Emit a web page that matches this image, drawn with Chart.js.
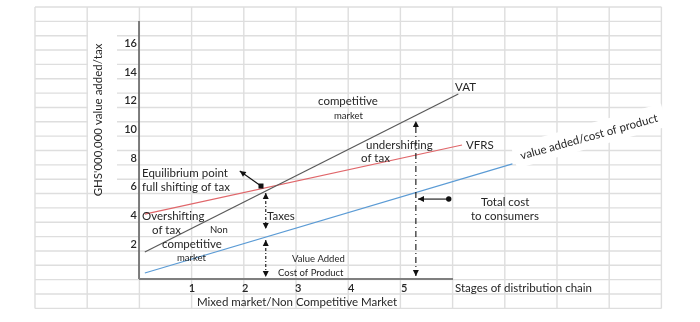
<!DOCTYPE html>
<html>
<head>
<meta charset="utf-8">
<script src="https://cdn.jsdelivr.net/npm/chart.js@4.4.1/dist/chart.umd.min.js"></script>
<style>
  html, body { margin: 0; padding: 0; background: #fff; }
  #wrap { width: 700px; height: 322px; }
</style>
</head>
<body>
<div id="wrap"><canvas id="chart" width="700" height="322"></canvas></div>
<script>
// Axis labels
const stageTicks = [1, 2, 3, 4, 5];
const valueTicks = [2, 4, 6, 8, 10, 12, 14, 16];

// Line endpoints (stage, GHS'000,000)
const vatLine = [{ x: 0.11, y: 1.46 }, { x: 6.02, y: 12.47 }];
const vfrsLine = [{ x: 0.11, y: 4.10 }, { x: 6.09, y: 8.92 }];
const costLine = [{ x: 0.11, y: 0.00 }, { x: 7.04, y: 7.60 }];

// Arrows between the lines (stage, value)
const arrows = [
    { from: { x: 2.30, y: 6.06 }, to: { x: 1.90, y: 7.11 }, dash: [], startCap: 'square', endCap: 'head' },
    { from: { x: 2.39, y: 5.57 }, to: { x: 2.39, y: 3.06 }, dash: [3, 2, 1, 2], startCap: 'head', endCap: 'head' },
    { from: { x: 2.39, y: 2.30 }, to: { x: 2.39, y: -0.28 }, dash: [3, 2, 1, 2], startCap: 'head', endCap: 'head' },
    { from: { x: 5.22, y: -0.21 }, to: { x: 5.22, y: 10.59 }, dash: [6, 3, 1, 3], startCap: 'head', endCap: 'head' },
    { from: { x: 5.84, y: 5.15 }, to: { x: 5.26, y: 5.15 }, dash: [], startCap: 'dot', endCap: 'head' }
];

const FONT = 'Lato, "Open Sans", sans-serif';
const TEXT = '#262626';
const BIG = 11.5;
const SMALL = 9.5;

// Text boxes placed on the sheet
const notes = [
    ['VAT', 455, 87, BIG],
    ['competitive', 318, 101, BIG],
    ['market', 334, 116, SMALL],
    ['undershifting', 366, 145, BIG],
    ['of tax', 361, 158, BIG],
    ['VFRS', 466, 145, BIG],
    ['Equilibrium point', 142, 173, BIG],
    ['full shifting of tax', 142, 187, BIG],
    ['Overshifting', 142, 216, BIG],
    ['of tax', 152, 230, BIG],
    ['Non', 210, 230, SMALL],
    ['competitive', 162, 244, BIG],
    ['market', 177, 258, SMALL],
    ['Taxes', 267, 216, BIG],
    ['Value Added', 292, 259, SMALL],
    ['Cost of Product', 278, 273, SMALL],
    ['Total cost', 481, 202, BIG],
    ['to consumers', 471, 216, BIG],
    ['Stages of distribution chain', 455, 288, BIG],
    ['Mixed market/Non Competitive Market', 197, 302, BIG]
];

function drawHead(ctx, x, y, angle) {
    ctx.save();
    ctx.translate(x, y);
    ctx.rotate(angle);
    ctx.beginPath();
    ctx.moveTo(0, 0);
    ctx.lineTo(-6, -3);
    ctx.lineTo(-6, 3);
    ctx.closePath();
    ctx.fill();
    ctx.restore();
}

function drawCap(ctx, kind, x, y, angle) {
    if (kind === 'head') {
        drawHead(ctx, x, y, angle);
    } else if (kind === 'square') {
        ctx.fillRect(x - 2.5, y - 2.5, 5, 5);
    } else if (kind === 'dot') {
        ctx.beginPath();
        ctx.arc(x, y, 2.7, 0, Math.PI * 2);
        ctx.fill();
    }
}

const sheetPlugin = {
    id: 'sheet',
    beforeDraw(chart) {
        const ctx = chart.ctx;
        ctx.save();
        ctx.fillStyle = '#fff';
        ctx.fillRect(0, 0, chart.width, chart.height);

        // spreadsheet cells
        ctx.strokeStyle = '#dedede';
        ctx.lineWidth = 1.4;
        ctx.beginPath();
        for (let i = 0; i <= 12; i++) {
            const x = 35 + i * 52.2;
            ctx.moveTo(x, 7);
            ctx.lineTo(x, 308.4);
        }
        for (let j = 0; j <= 21; j++) {
            const y = 7 + j * 14.35;
            ctx.moveTo(35, y);
            ctx.lineTo(661.4, y);
        }
        ctx.stroke();

        // text box behind the y title
        ctx.fillStyle = '#fff';
        ctx.fillRect(88, 34, 29, 158);

        // text box behind the rotated line label
        ctx.save();
        ctx.translate(589, 136);
        ctx.rotate(-15.6 * Math.PI / 180);
        ctx.fillRect(-78, -12, 156, 24);
        ctx.restore();
        ctx.restore();
    },
    beforeDatasetsDraw(chart) {
        const ctx = chart.ctx;
        const area = chart.chartArea;
        ctx.save();
        ctx.strokeStyle = '#595959';
        ctx.lineWidth = 1.5;
        ctx.beginPath();
        ctx.moveTo(area.left, area.top);
        ctx.lineTo(area.left, area.bottom);
        ctx.stroke();
        ctx.strokeStyle = '#7f7f7f';
        ctx.lineWidth = 2;
        ctx.beginPath();
        ctx.moveTo(area.left, area.bottom);
        ctx.lineTo(area.right, area.bottom);
        ctx.stroke();
        ctx.restore();
    },
    afterDatasetsDraw(chart) {
        const ctx = chart.ctx;
        const xs = chart.scales.x;
        const ys = chart.scales.y;
        const area = chart.chartArea;
        ctx.save();

        // arrows
        ctx.strokeStyle = '#111';
        ctx.fillStyle = '#111';
        ctx.lineWidth = 1.1;
        arrows.forEach(a => {
            const x1 = xs.getPixelForValue(a.from.x), y1 = ys.getPixelForValue(a.from.y);
            const x2 = xs.getPixelForValue(a.to.x), y2 = ys.getPixelForValue(a.to.y);
            const ang = Math.atan2(y2 - y1, x2 - x1);
            ctx.setLineDash(a.dash);
            ctx.beginPath();
            ctx.moveTo(x1, y1);
            ctx.lineTo(x2, y2);
            ctx.stroke();
            ctx.setLineDash([]);
            drawCap(ctx, a.startCap, x1, y1, ang + Math.PI);
            drawCap(ctx, a.endCap, x2, y2, ang);
        });

        ctx.fillStyle = TEXT;
        ctx.textBaseline = 'middle';

        // tick labels
        ctx.font = '600 11px ' + FONT;
        ctx.textAlign = 'right';
        valueTicks.forEach(v => ctx.fillText(String(v), area.left - 2, ys.getPixelForValue(v)));
        ctx.textAlign = 'center';
        stageTicks.forEach(v => ctx.fillText(String(v), xs.getPixelForValue(v), area.bottom + 9));

        // notes
        ctx.textAlign = 'left';
        notes.forEach(([t, x, y, size]) => {
            ctx.font = size + 'px ' + FONT;
            ctx.fillText(t, x, y);
        });

        // rotated titles
        ctx.font = BIG + 'px ' + FONT;
        ctx.textAlign = 'center';
        ctx.save();
        ctx.translate(98, 120);
        ctx.rotate(-Math.PI / 2);
        ctx.fillText("GHS'000,000 value added/tax", 0, 0);
        ctx.restore();
        ctx.save();
        ctx.translate(589, 137);
        ctx.rotate(-15.6 * Math.PI / 180);
        ctx.fillText('value added/cost of product', 0, 0);
        ctx.restore();

        ctx.restore();
    }
};

new Chart(document.getElementById('chart'), {
    type: 'scatter',
    data: {
        datasets: [
            { label: 'VAT', data: vatLine, showLine: true, borderColor: '#595959', borderWidth: 1.2, pointRadius: 0, clip: false },
            { label: 'VFRS', data: vfrsLine, showLine: true, borderColor: '#e0666a', borderWidth: 1.2, pointRadius: 0, clip: false },
            { label: 'value added/cost of product', data: costLine, showLine: true, borderColor: '#5b9bd5', borderWidth: 1.2, pointRadius: 0, clip: false }
        ]
    },
    options: {
        responsive: false,
        animation: false,
        devicePixelRatio: 1,
        layout: { padding: { left: 139, right: 247, top: 21, bottom: 43 } },
        scales: {
            x: { type: 'linear', min: 0, max: 5.92, display: false },
            y: { type: 'linear', min: -0.42, max: 17.56, display: false }
        },
        plugins: {
            legend: { display: false },
            tooltip: { enabled: false }
        }
    },
    plugins: [sheetPlugin]
});
</script>
</body>
</html>
